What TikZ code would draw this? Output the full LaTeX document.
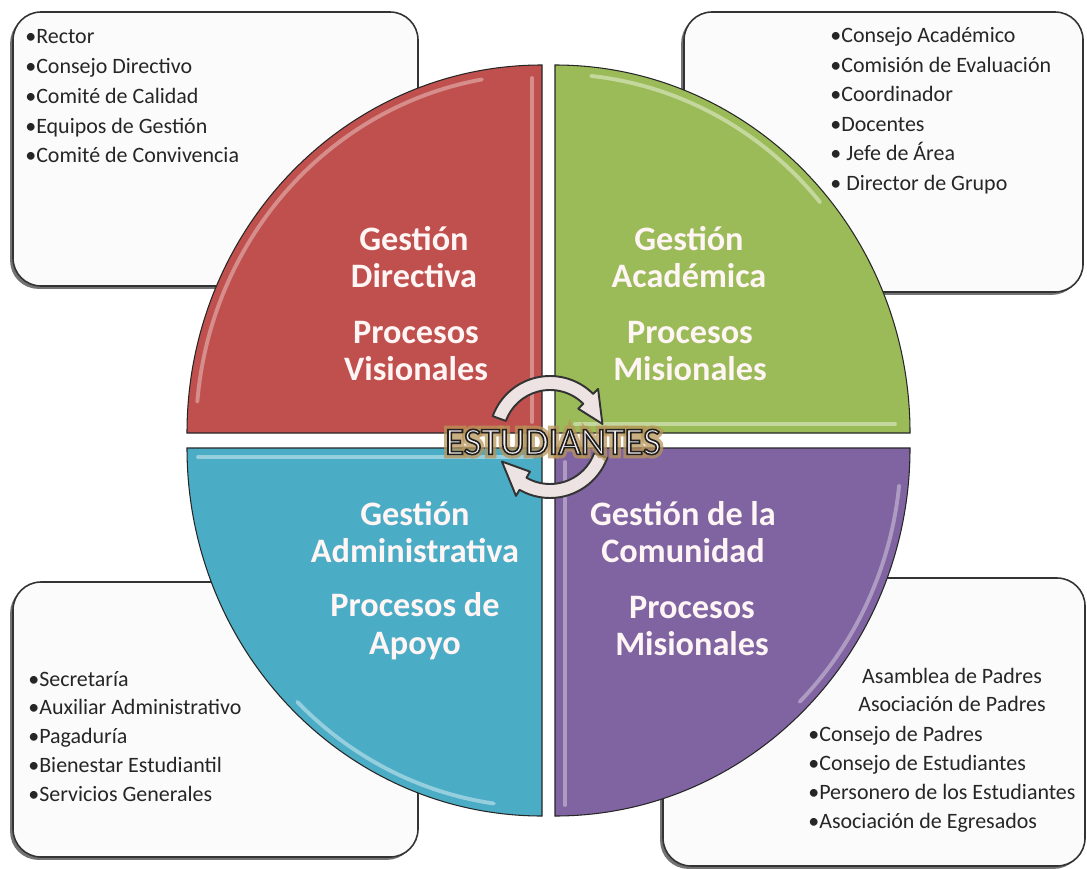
\documentclass[tikz,border=0pt]{standalone}
\usepackage{fontspec}
\setmainfont{Carlito}
\usetikzlibrary{shadows}

\definecolor{dirRed}{HTML}{C0504D}
\definecolor{acaGreen}{HTML}{9BBB59}
\definecolor{admBlue}{HTML}{4BACC6}
\definecolor{comPurple}{HTML}{8064A2}
\definecolor{boxFill}{HTML}{FBFBFB}
\definecolor{arrowFill}{HTML}{EDE3E3}
\definecolor{glowTan}{HTML}{B8935A}

% outlined letters: fill with the text colour, stroke in dark grey
\newcommand{\outlined}[1]{\special{pdf:literal direct 2 Tr 0.9 w 0.12 0.12 0.12 RG}#1\special{pdf:literal direct 0 Tr 0.4 w}}

\tikzset{
    listbox/.style={draw=black!80, line width=0.9pt, fill=boxFill, rounded corners=0.56cm,
        drop shadow={shadow xshift=-1.6pt, shadow yshift=-1.6pt, fill=black!55, opacity=1}},
    item/.style={anchor=base west, inner sep=0pt, text=black!85, font=\fontsize{12.5}{15}\selectfont},
    quad/.style={draw=black!85, line width=0.6pt},
    shine/.style={line width=2.2pt, opacity=0.55, line cap=round},
    quadtext/.style={align=center, inner sep=0pt, text=white!96!red, font=\bfseries\fontsize{19.5}{21.5}\selectfont},
    cycarrow/.style={fill=arrowFill, draw=black!80, line width=1.1pt, line join=round},
    stu/.style={inner sep=0pt, font=\fontsize{22}{24}\selectfont},
}

\begin{document}
\begin{tikzpicture}[x=0.02cm, y=0.02cm]
    \useasboundingbox (0,0) rectangle (1087,-868);

    % boxes behind the circle
    \draw[listbox] (13,-12) rectangle (418,-286);
    \draw[listbox] (684,-12) rectangle (1083,-292);
    \draw[listbox] (13,-582) rectangle (418,-857);
    \draw[listbox] (663,-578) rectangle (1085,-866);

    % lists
    \foreach \txt [count=\i] in {•Rector, •Consejo Directivo, •Comité de Calidad, •Equipos de Gestión, •Comité de Convivencia} {
        \node[item] (dir\i) at (25, {-44-29.75*(\i-1)}) {\txt};
    }
    \foreach \txt [count=\i] in {•Consejo Académico, •Comisión de Evaluación, •Coordinador, •Docentes, •\ Jefe de Área, •\ Director de Grupo} {
        \node[item] (aca\i) at (830, {-43-29.5*(\i-1)}) {\txt};
    }
    \foreach \txt [count=\i] in {•Secretaría, •Auxiliar Administrativo, •Pagaduría, •Bienestar Estudiantil, •Servicios Generales} {
        \node[item] (adm\i) at (28, {-686-28.9*(\i-1)}) {\txt};
    }
    \node[item, anchor=base] (com1) at (952,-683) {Asamblea de Padres};
    \node[item, anchor=base] (com2) at (952,-711) {Asociación de Padres};
    \foreach \txt [count=\i from 3] in {•Consejo de Padres, •Consejo de Estudiantes, •Personero de los Estudiantes, •Asociación de Egresados} {
        \node[item] (com\i) at (808, {-741-29*(\i-3)}) {\txt};
    }

    % quadrants
    \filldraw[quad, fill=dirRed] (542,-433) -- (187,-433) arc[start angle=180, end angle=90, x radius=355, y radius=368] -- cycle;
    \filldraw[quad, fill=acaGreen] (555,-433) -- (555,-65) arc[start angle=90, end angle=0, x radius=355, y radius=368] -- cycle;
    \filldraw[quad, fill=admBlue] (542,-448) -- (187,-448) arc[start angle=180, end angle=270, x radius=355, y radius=368] -- cycle;
    \filldraw[quad, fill=comPurple] (555,-448) -- (910,-448) arc[start angle=0, end angle=-90, x radius=355, y radius=368] -- cycle;

    % bevel lights
    \draw[shine, draw=dirRed!35!white] ([shift={(175:346 and 359)}]542,-433) arc[start angle=175, end angle=100, x radius=346, y radius=359];
    \draw[shine, draw=dirRed!35!white] (532,-78) -- (532,-422);
    \draw[shine, draw=acaGreen!25!white] ([shift={(84:346 and 359)}]555,-433) arc[start angle=84, end angle=40, x radius=346, y radius=359];
    \draw[shine, draw=acaGreen!25!white] (575,-424) -- (895,-424);
    \draw[shine, draw=admBlue!25!white] (198,-457) -- (532,-457);
    \draw[shine, draw=admBlue!25!white] ([shift={(262:346 and 359)}]542,-448) arc[start angle=262, end angle=225, x radius=346, y radius=359];
    \draw[shine, draw=comPurple!35!white] (565,-462) -- (565,-805);
    \draw[shine, draw=comPurple!35!white] ([shift={(-6:346 and 359)}]555,-448) arc[start angle=-6, end angle=-45, x radius=346, y radius=359];

    % quadrant titles
    \node[quadtext] (dirName) at (414,-257) {Gestión\\Directiva};
    \node[quadtext] (dirProc) at (416,-351) {Procesos\\Visionales};
    \node[quadtext] (acaName) at (689,-257) {Gestión\\Académica};
    \node[quadtext] (acaProc) at (690,-351) {Procesos\\Misionales};
    \node[quadtext] (admName) at (415,-532) {Gestión\\Administrativa};
    \node[quadtext] (admProc) at (415,-626) {Procesos de\\Apoyo};
    \node[quadtext] (comName) at (683,-532) {Gestión de la\\Comunidad};
    \node[quadtext] (comProc) at (692,-626) {Procesos\\Misionales};

    % cycle arrows
    \coordinate (C) at (550,-437);
    \filldraw[cycarrow] ([shift={(160:61)}]C) arc[start angle=160, end angle=45, radius=61]
        -- ([shift={(45:68)}]C) -- ([shift={(14:54)}]C) -- ([shift={(45:40)}]C)
        -- ([shift={(45:47)}]C) arc[start angle=45, end angle=160, radius=47] -- cycle;
    \filldraw[cycarrow] ([shift={(-20:61)}]C) arc[start angle=-20, end angle=-120, radius=61]
        -- ([shift={(240:68)}]C) -- ([shift={(207:54)}]C) -- ([shift={(240:40)}]C)
        -- ([shift={(240:47)}]C) arc[start angle=240, end angle=340, radius=47] -- cycle;

    % centre word
    \coordinate (S) at (553,-442);
    \node[stu, text=glowTan, opacity=0.75] (glow) at (S)
        {\special{pdf:literal direct 1 Tr 4.5 w 0.72 0.58 0.35 RG}ESTUDIANTES\special{pdf:literal direct 0 Tr 0.4 w}};
    \node[stu, text=arrowFill!60!white] (stud) at (S) {\outlined{ESTUDIANTES}};
\end{tikzpicture}
\end{document}
